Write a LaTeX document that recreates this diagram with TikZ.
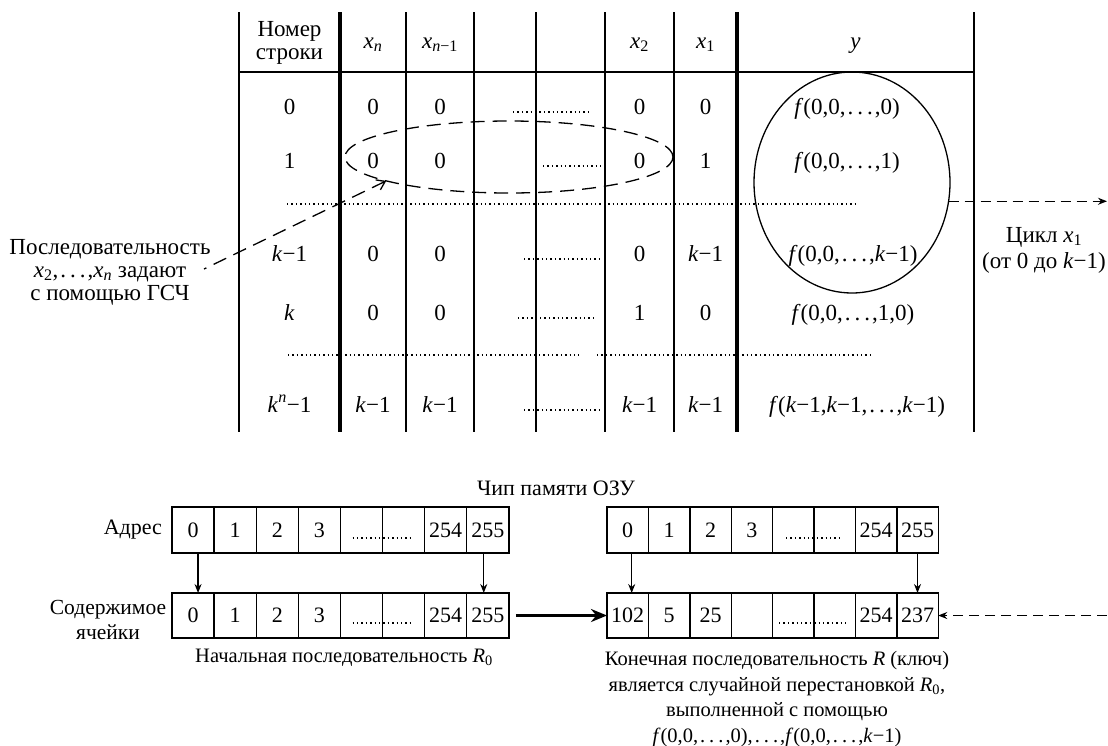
\documentclass[tikz,border=0pt]{standalone}
\usepackage{fontspec}
\setmainfont{Liberation Serif}
\usetikzlibrary{arrows.meta,shapes.geometric,calc}

% italic variable with a subscript
\newcommand\vr[2]{\textit{#1}\textsubscript{#2}}
% spaced ellipsis as in formulas
\newcommand\dotsx{\kern2pt.\kern4pt.\kern4pt.\kern2pt}
\newcommand\km{\textit{k}−1}

\begin{document}
\begin{tikzpicture}[x=1pt,y=-1pt,
  every node/.style={inner sep=0pt, outer sep=0pt, font=\fontsize{23}{25}\selectfont},
  smalltext/.style={font=\fontsize{20.5}{25.5}\selectfont},
  gridline/.style={line width=1.3pt},
  heavyrule/.style={line width=4pt},
  dotrow/.style={line width=1.4pt, dash pattern=on 1.4pt off 3pt},
  longdash/.style={line width=1.3pt, dash pattern=on 14pt off 8pt},
  shortdash/.style={line width=1.3pt, dash pattern=on 10pt off 6pt},
  cellbox/.style={draw, line width=1.4pt, minimum height=46pt, anchor=north west,
    font=\fontsize{22}{24}\selectfont},
  smallhead/.style={-{Stealth[length=9pt,width=7pt]}},
]
\useasboundingbox (0,0) rectangle (1108,745);

% ---------------- truth table ----------------
\foreach \x in {239,406,474,536,605,674,974} \draw[gridline] (\x,12) -- (\x,432);
\foreach \x in {340,737} \draw[heavyrule] (\x,12) -- (\x,432);
\draw[gridline] (239,72) -- (974,72);

% header
\node[align=center, font=\fontsize{23}{23}\selectfont] (hnum) at (289.5,43) {Номер\\строки};
\node[anchor=base] (hxn) at (373,48) {\vr{x}{\textit{n}}};
\node[anchor=base] (hxm) at (440,48) {\vr{x}{\textit{n}−1}};
\node[anchor=base] (hx2) at (639.5,48) {\vr{x}{2}};
\node[anchor=base] (hx1) at (705.5,48) {\vr{x}{1}};
\node[anchor=base] (hy) at (855.5,48) {\textit{y}};

% row 0
\node[anchor=base] (n0) at (289.5,114) {0};
\node[anchor=base] (a0) at (373,114) {0};
\node[anchor=base] (b0) at (440,114) {0};
\node[anchor=base] (d0) at (639.5,114) {0};
\node[anchor=base] (e0) at (705.5,114) {0};
\node[anchor=base] (f0) at (847,114) {\textit{f}(0,0,\dotsx,0)};
% row 1
\node[anchor=base] (n1) at (289.5,168) {1};
\node[anchor=base] (a1) at (373,168) {0};
\node[anchor=base] (b1) at (440,168) {0};
\node[anchor=base] (d1) at (639.5,168) {0};
\node[anchor=base] (e1) at (705.5,168) {1};
\node[anchor=base] (f1) at (847,168) {\textit{f}(0,0,\dotsx,1)};
% row k-1
\node[anchor=base] (n2) at (289.5,261) {\km};
\node[anchor=base] (a2) at (373,261) {0};
\node[anchor=base] (b2) at (440,261) {0};
\node[anchor=base] (d2) at (639.5,261) {0};
\node[anchor=base] (e2) at (705.5,261) {\km};
\node[anchor=base] (f2) at (853,261) {\textit{f}(0,0,\dotsx,\km)};
% row k
\node[anchor=base] (n3) at (289.5,320) {\textit{k}};
\node[anchor=base] (a3) at (373,320) {0};
\node[anchor=base] (b3) at (440,320) {0};
\node[anchor=base] (d3) at (639.5,320) {1};
\node[anchor=base] (e3) at (705.5,320) {0};
\node[anchor=base] (f3) at (853,320) {\textit{f}(0,0,\dotsx,1,0)};
% row k^n-1
\node[anchor=base] (n4) at (289.5,412) {\textit{k}\textsuperscript{\textit{n}}−1};
\node[anchor=base] (a4) at (373,412) {\km};
\node[anchor=base] (b4) at (440,412) {\km};
\node[anchor=base] (d4) at (639.5,412) {\km};
\node[anchor=base] (e4) at (705.5,412) {\km};
\node[anchor=base] (f4) at (857,412) {\textit{f}(\km,\km,\dotsx,\km)};

% omitted columns
\draw[dotrow] (513,112) -- (590,112);
\draw[dotrow] (543,166) -- (601,166);
\draw[dotrow] (524,259) -- (602,259);
\draw[dotrow] (518,318) -- (596,318);
\draw[dotrow] (524,410) -- (602,410);
% omitted rows
\draw[dotrow] (287,204) -- (857,204);
\draw[dotrow] (288,355) -- (579,355);
\draw[dotrow] (597,355) -- (872,355);

% groups of the table
\node[ellipse, draw, longdash, minimum width=328pt, minimum height=72pt] (seqell) at (509,157) {};
\node[ellipse, draw, line width=1.3pt, minimum width=196pt, minimum height=221pt] (ycirc) at (852,182.5) {};

\node[align=center, font=\fontsize{23}{23}\selectfont] (seqtxt) at (110,272)
  {Последовательность\\\vr{x}{2},\dotsx,\vr{x}{\textit{n}} задают\\с помощью ГСЧ};
\coordinate (seqend) at (204,269);
\draw[longdash, {Straight Barb[length=8pt,width=11pt]}-] (seqell.191) -- (seqend);

\node[align=center, font=\fontsize{23}{26}\selectfont] (cyc) at (1044,250)
  {Цикл \vr{x}{1}\\(от 0 до \km)};
\coordinate (cycend) at (1107,0);
\draw[shortdash, smallhead] (ycirc.-11) -- (ycirc.-11 -| cycend);

% ---------------- memory chip ----------------
\node[font=\fontsize{22}{24}\selectfont] (chip) at (556,488) {Чип памяти ОЗУ};

\foreach \i/\t in {0/0,1/1,2/2,3/3,4/,5/,6/254,7/255} {
  \node[cellbox, minimum width=42.1pt] (la\i) at (172+42.1*\i,507) {\t};
  \node[cellbox, minimum width=42.1pt, minimum height=45pt] (lc\i) at (172+42.1*\i,593) {\t};
}
\foreach \i/\t/\u in {0/0/102,1/1/5,2/2/25,3/3/,4//,5//,6/254/254,7/255/237} {
  \node[cellbox, minimum width=41.4pt] (ra\i) at (607+41.4*\i,507) {\t};
  \node[cellbox, minimum width=41.4pt, minimum height=45pt] (rc\i) at (607+41.4*\i,593) {\u};
}
\draw[dotrow] ($(la4.north east)+(-30,31)$) -- ($(la4.north east)+(30,31)$);
\draw[dotrow] ($(lc4.north east)+(-30,30)$) -- ($(lc4.north east)+(30,30)$);
\draw[dotrow] ($(ra4.north east)+(-28,31)$) -- ($(ra4.north east)+(28,31)$);
\draw[dotrow] ($(rc4.north east)+(-35,30)$) -- ($(rc4.north east)+(35,30)$);

\draw[line width=1.2pt, smallhead] ([xshift=5pt]la0.south) -- ([xshift=5pt]lc0.north);
\draw[line width=1.2pt, smallhead] ([xshift=-4pt]la7.south) -- ([xshift=-4pt]lc7.north);
\draw[line width=1.2pt, smallhead] ([xshift=4pt]ra0.south) -- ([xshift=4pt]rc0.north);
\draw[line width=1.2pt, smallhead] (ra7.south) -- (rc7.north);

\draw[line width=3pt, -{Stealth[length=16pt,width=13pt]}, shorten <=7pt] (lc7.east) -- (rc0.west);

\coordinate (memend) at (1107,0);
\draw[shortdash, smallhead] (rc7.east -| memend) -- (rc7.east);

\node[anchor=east, font=\fontsize{22}{24}\selectfont] (addr) at (162,530) {Адрес};
\node[align=center, font=\fontsize{21.5}{25}\selectfont] (cont) at (108,620) {Содержимое\\ячейки};
\node[smalltext] (r0lbl) at (344,658) {Начальная последовательность \vr{R}{0}};
\node[smalltext, align=center] (rlbl) at (777,699)
  {Конечная последовательность \textit{R} (ключ)\\является случайной перестановкой \vr{R}{0},\\выполненной с помощью\\\textit{f}(0,0,\dotsx,0),\dotsx,\textit{f}(0,0,\dotsx,\km)};
\end{tikzpicture}
\end{document}
